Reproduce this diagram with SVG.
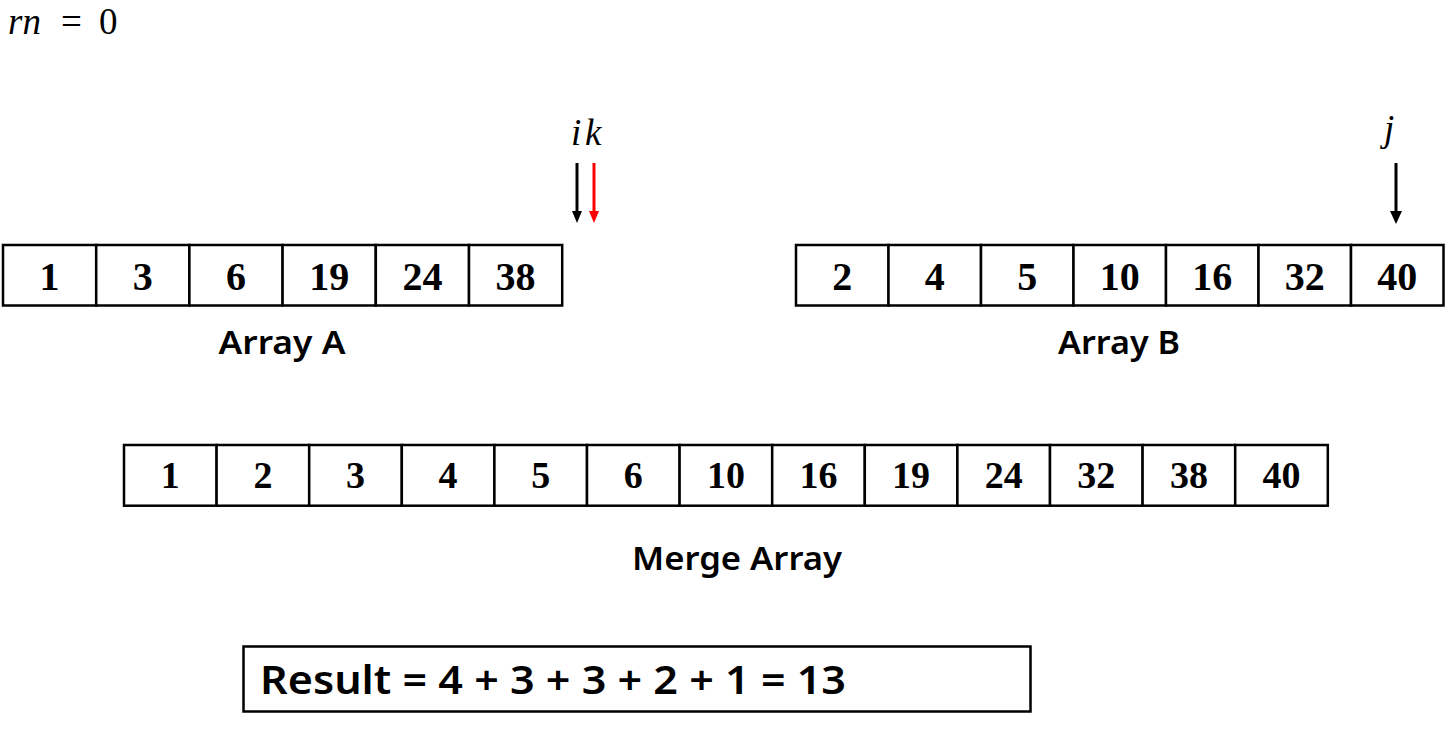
<svg xmlns="http://www.w3.org/2000/svg" width="1445" height="729" viewBox="0 0 1445 729">
<style>
.cell{fill:#fff;stroke:#000;stroke-width:2.5}
.num{font-family:"Liberation Serif","Times New Roman",serif;font-weight:bold;font-size:40px;text-anchor:middle;fill:#000}
.mnum{font-family:"Liberation Serif","Times New Roman",serif;font-weight:bold;font-size:38px;text-anchor:middle;fill:#000}
.lbl{font-family:"Noto Sans","Liberation Sans",sans-serif;font-weight:600;font-size:33px;text-anchor:middle;fill:#000}
.math{font-family:"Liberation Serif","Times New Roman",serif;font-style:italic;font-size:37px;fill:#000}
.mathr{font-family:"Liberation Serif","Times New Roman",serif;font-size:37px;fill:#000}
.res{font-family:"Noto Sans","Liberation Sans",sans-serif;font-weight:600;font-size:39px;fill:#000}
</style>
<g id="rn">
<text x="8" y="34" class="math">rn</text>
<text x="61" y="34" class="mathr">=</text>
<text x="99" y="34" class="mathr">0</text>
</g>
<g id="ptr-labels">
<text x="571" y="145" class="math" font-size="36">i</text>
<text x="585" y="145" class="math" font-size="36">k</text>
<text x="1384" y="141" class="math" font-size="36">j</text>
</g>
<g id="connectors">
<line x1="577" y1="163" x2="577" y2="212" stroke="#000" stroke-width="3"/>
<path d="M572,211 L582,211 L577,223 Z" fill="#000"/>
<line x1="594" y1="163" x2="594" y2="212" stroke="#f00" stroke-width="3"/>
<path d="M589,211 L599,211 L594,223 Z" fill="#f00"/>
<line x1="1396" y1="163" x2="1396" y2="212" stroke="#000" stroke-width="3"/>
<path d="M1390,211 L1402,211 L1396,224 Z" fill="#000"/>
</g>
<g id="arrayA">
<rect class="cell" x="3" y="245" width="93.2" height="60.5"/>
<rect class="cell" x="96.2" y="245" width="93.2" height="60.5"/>
<rect class="cell" x="189.4" y="245" width="93.2" height="60.5"/>
<rect class="cell" x="282.6" y="245" width="93.2" height="60.5"/>
<rect class="cell" x="375.8" y="245" width="93.2" height="60.5"/>
<rect class="cell" x="469" y="245" width="93.2" height="60.5"/>
<text class="num" x="49.6" y="290">1</text>
<text class="num" x="142.8" y="290">3</text>
<text class="num" x="236" y="290">6</text>
<text class="num" x="329.2" y="290">19</text>
<text class="num" x="422.4" y="290">24</text>
<text class="num" x="515.6" y="290">38</text>
<text class="lbl" x="282" y="354" textLength="127" lengthAdjust="spacingAndGlyphs">Array A</text>
</g>
<g id="arrayB">
<rect class="cell" x="796" y="245" width="92.5" height="60.5"/>
<rect class="cell" x="888.5" y="245" width="92.5" height="60.5"/>
<rect class="cell" x="981" y="245" width="92.5" height="60.5"/>
<rect class="cell" x="1073.5" y="245" width="92.5" height="60.5"/>
<rect class="cell" x="1166" y="245" width="92.5" height="60.5"/>
<rect class="cell" x="1258.5" y="245" width="92.5" height="60.5"/>
<rect class="cell" x="1351" y="245" width="92.5" height="60.5"/>
<text class="num" x="842.3" y="290">2</text>
<text class="num" x="934.8" y="290">4</text>
<text class="num" x="1027.3" y="290">5</text>
<text class="num" x="1119.8" y="290">10</text>
<text class="num" x="1212.3" y="290">16</text>
<text class="num" x="1304.8" y="290">32</text>
<text class="num" x="1397.3" y="290">40</text>
<text class="lbl" x="1119" y="354" textLength="122" lengthAdjust="spacingAndGlyphs">Array B</text>
</g>
<g id="merge">
<rect class="cell" x="124" y="445" width="92.6" height="60.7"/>
<rect class="cell" x="216.6" y="445" width="92.6" height="60.7"/>
<rect class="cell" x="309.2" y="445" width="92.6" height="60.7"/>
<rect class="cell" x="401.8" y="445" width="92.6" height="60.7"/>
<rect class="cell" x="494.4" y="445" width="92.6" height="60.7"/>
<rect class="cell" x="587" y="445" width="92.6" height="60.7"/>
<rect class="cell" x="679.6" y="445" width="92.6" height="60.7"/>
<rect class="cell" x="772.2" y="445" width="92.6" height="60.7"/>
<rect class="cell" x="864.8" y="445" width="92.6" height="60.7"/>
<rect class="cell" x="957.4" y="445" width="92.6" height="60.7"/>
<rect class="cell" x="1050" y="445" width="92.6" height="60.7"/>
<rect class="cell" x="1142.6" y="445" width="92.6" height="60.7"/>
<rect class="cell" x="1235.2" y="445" width="92.6" height="60.7"/>
<text class="mnum" x="170.3" y="488">1</text>
<text class="mnum" x="262.9" y="488">2</text>
<text class="mnum" x="355.5" y="488">3</text>
<text class="mnum" x="448.1" y="488">4</text>
<text class="mnum" x="540.7" y="488">5</text>
<text class="mnum" x="633.3" y="488">6</text>
<text class="mnum" x="725.9" y="488">10</text>
<text class="mnum" x="818.5" y="488">16</text>
<text class="mnum" x="911.1" y="488">19</text>
<text class="mnum" x="1003.7" y="488">24</text>
<text class="mnum" x="1096.3" y="488">32</text>
<text class="mnum" x="1188.9" y="488">38</text>
<text class="mnum" x="1281.5" y="488">40</text>
<text class="lbl" x="737" y="570" textLength="210" lengthAdjust="spacingAndGlyphs">Merge Array</text>
</g>
<g id="result">
<rect x="243.5" y="646.5" width="787" height="65" fill="#fff" stroke="#000" stroke-width="2.5"/>
<text class="res" x="260" y="694" textLength="586" lengthAdjust="spacingAndGlyphs">Result = 4 + 3 + 3 + 2 + 1 = 13</text>
</g>
</svg>
